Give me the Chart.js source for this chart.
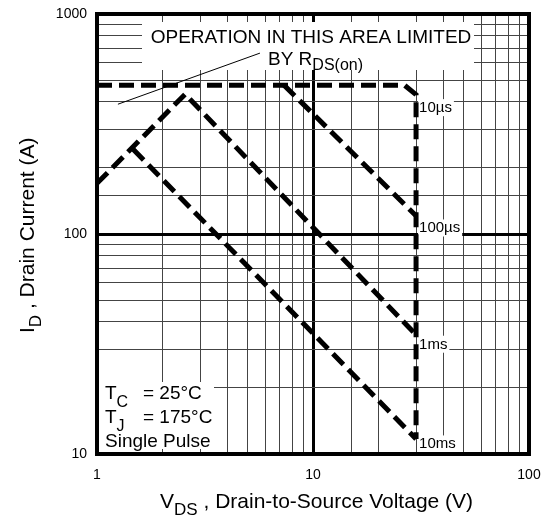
<!DOCTYPE html>
<html><head><meta charset="utf-8">
<script src="https://cdn.jsdelivr.net/npm/chart.js@4/dist/chart.umd.min.js"></script>
<style>html,body{margin:0;padding:0;background:#fff;}#wrap{width:545px;height:518px;}</style>
</head><body><div id="wrap"><canvas id="c" width="545" height="518"></canvas></div>
<script>
// ---- data ----
const xTickLabels = [1, 10, 100];
const yTickLabels = [10, 100, 1000];
const rdsLineV = [1.25, 5.68];
const rdsLineI = [389, 664];
const us10V = [1, 26.5, 30, 30];
const us10I = [475, 475, 430, 11.7];
const us100V = [7.34, 30];
const us100I = [475, 121];
const ms1V = [1, 2.56, 30];
const ms1I = [170, 432, 34.8];
const ms10V = [1.47, 30];
const ms10I = [243, 11.7];
const pulseLabels = ['10µs', '100µs', '1ms', '10ms'];
const pulseLabelV = 30;
const pulseLabelI = [358, 101.6, 30.1, 10.6];
const noteLines = ['OPERATION IN THIS AREA LIMITED', 'BY R', 'DS(on)'];
const condLines = [['T', 'C', '= 25°C'], ['T', 'J', '= 175°C'], ['Single Pulse']];

const FONT = '"Liberation Sans", Arial, Helvetica, sans-serif';
function pts(xs, ys) { return xs.map((v, i) => ({ x: v, y: ys[i] })); }
function isMajor(v) { const l = Math.log10(v); return Math.abs(l - Math.round(l)) < 1e-9; }

const dashed = { borderColor: '#000', borderWidth: 5, borderDash: [15, 7], pointRadius: 0, showLine: true, fill: false, tension: 0, borderCapStyle: 'butt', borderJoinStyle: 'miter' };

const overlay = {
  id: 'overlay',
  beforeDatasetsDraw(chart) {
    const ctx = chart.ctx, a = chart.chartArea, xs = chart.scales.x, ys = chart.scales.y;
    ctx.save();
    ctx.fillStyle = '#fff';
    ctx.fillRect(142, 22, 332, 48);
    ctx.fillRect(a.left + 1, 382, 116, 67);
    ctx.fillStyle = '#000';
    ctx.textBaseline = 'alphabetic';
    ctx.font = '19px ' + FONT;
    ctx.textAlign = 'center';
    ctx.fillText(noteLines[0], 311, 43);
    ctx.textAlign = 'left';
    ctx.fillText(noteLines[1], 268, 65);
    const w1 = ctx.measureText(noteLines[1]).width;
    ctx.font = '16px ' + FONT;
    ctx.fillText(noteLines[2], 268 + w1, 70);
    const base = [399, 423, 447];
    condLines.forEach((ln, i) => {
      ctx.font = '19px ' + FONT;
      if (ln.length === 1) { ctx.fillText(ln[0], 105, base[i]); return; }
      ctx.fillText(ln[0], 105, base[i]);
      const tw = ctx.measureText(ln[0]).width;
      ctx.font = '16px ' + FONT;
      ctx.fillText(ln[1], 105 + tw, base[i] + 8);
      ctx.font = '19px ' + FONT;
      ctx.fillText(ln[2], 143, base[i]);
    });
    ctx.font = '15px ' + FONT;
    pulseLabels.forEach((t, i) => {
      const px = xs.getPixelForValue(pulseLabelV) + 3;
      const py = ys.getPixelForValue(pulseLabelI[i]);
      const w = ctx.measureText(t).width;
      ctx.fillStyle = '#fff';
      ctx.fillRect(px - 1, py - 13, w + 3, 17);
      ctx.fillStyle = '#000';
      ctx.fillText(t, px, py);
    });
    ctx.restore();
  },
  afterDraw(chart) {
    const ctx = chart.ctx, a = chart.chartArea;
    ctx.save();
    ctx.strokeStyle = '#000';
    ctx.lineWidth = 4;
    ctx.strokeRect(a.left, a.top, a.right - a.left, a.bottom - a.top);
    ctx.fillStyle = '#000';
    ctx.textBaseline = 'alphabetic';
    ctx.textAlign = 'left';
    let x0 = 160;
    ctx.font = '21px ' + FONT;
    ctx.fillText('V', x0, 508);
    x0 += ctx.measureText('V').width;
    ctx.font = '17px ' + FONT;
    ctx.fillText('DS', x0, 515);
    x0 += ctx.measureText('DS').width;
    ctx.font = '21px ' + FONT;
    ctx.fillText(' , Drain-to-Source Voltage (V)', x0, 508);
    ctx.translate(34, 333);
    ctx.rotate(-Math.PI / 2);
    let y0 = 0;
    ctx.font = '21px ' + FONT;
    ctx.fillText('I', y0, 0);
    y0 += ctx.measureText('I').width;
    ctx.font = '17px ' + FONT;
    ctx.fillText('D', y0, 7);
    y0 += ctx.measureText('D').width;
    ctx.font = '21px ' + FONT;
    ctx.fillText(' , Drain Current (A)', y0, 0);
    ctx.restore();
  }
};

const gridCfg = {
  drawTicks: false,
  color: c => (c.tick && isMajor(c.tick.value)) ? '#000' : '#444',
  lineWidth: c => (c.tick && isMajor(c.tick.value)) ? 3 : 1
};

new Chart(document.getElementById('c'), {
  type: 'scatter',
  data: {
    datasets: [
      { data: pts(rdsLineV, rdsLineI), borderColor: '#000', borderWidth: 1, pointRadius: 0, showLine: true },
      Object.assign({ data: pts(us10V, us10I) }, dashed),
      Object.assign({ data: pts(us100V, us100I) }, dashed),
      Object.assign({ data: pts(ms1V, ms1I) }, dashed),
      Object.assign({ data: pts(ms10V, ms10I) }, dashed)
    ]
  },
  options: {
    responsive: false,
    animation: false,
    layout: { padding: { left: 0, right: 16, top: 14, bottom: 0 } },
    plugins: { legend: { display: false }, tooltip: { enabled: false } },
    scales: {
      x: {
        type: 'logarithmic', min: 1, max: 100,
        border: { display: false },
        grid: gridCfg,
        ticks: { autoSkip: false, maxRotation: 0, padding: 13, color: '#000', font: { family: FONT, size: 14 },
          callback: v => xTickLabels.includes(v) ? String(v) : '' },
        afterFit: s => { s.height = 64; s.paddingLeft = 0; s.paddingRight = 0; }
      },
      y: {
        type: 'logarithmic', min: 10, max: 1000,
        border: { display: false },
        grid: gridCfg,
        ticks: { autoSkip: false, padding: 10, color: '#000', font: { family: FONT, size: 14 },
          callback: v => yTickLabels.includes(v) ? String(v) : '' },
        afterFit: s => { s.width = 97; s.paddingTop = 0; s.paddingBottom = 0; }
      }
    }
  },
  plugins: [overlay]
});
</script>
</body></html>
